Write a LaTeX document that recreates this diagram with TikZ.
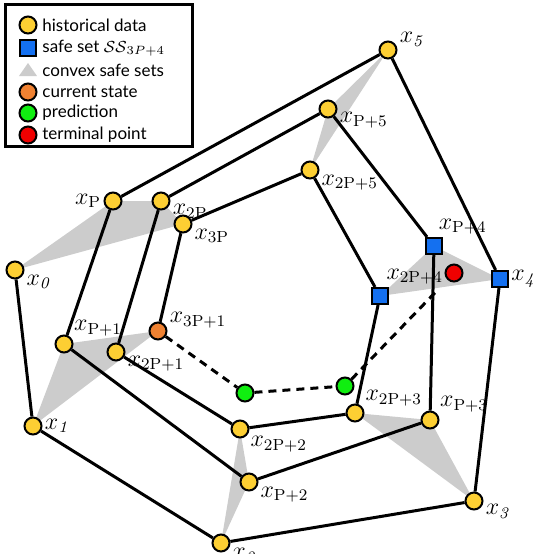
\documentclass[tikz,border=0pt]{standalone}
\usepackage{fontspec}
\setsansfont{Lato}
\usepackage{tikz}
\usetikzlibrary{backgrounds}
\definecolor{histyellow}{HTML}{FDCF33}
\definecolor{safeblue}{HTML}{1470F0}
\definecolor{curorange}{HTML}{F08232}
\definecolor{predgreen}{HTML}{10EE10}
\definecolor{termred}{HTML}{F00000}
\definecolor{hullgray}{HTML}{CCCCCC}
\newcommand{\xlab}[1]{$x_{\mathrm{#1}}$}

\begin{document}
\begin{tikzpicture}[
  x=0.5pt, y=-0.5pt,
  every node/.style={font=\fontsize{11.5}{13}\selectfont},
  pt/.style={circle, draw, line width=1pt, minimum size=8.5pt, inner sep=0pt},
  hist/.style={pt, fill=histyellow},
  safe/.style={rectangle, draw, line width=1pt, minimum size=8pt, inner sep=0pt, fill=safeblue},
  cur/.style={pt, fill=curorange},
  pred/.style={pt, fill=predgreen},
  term/.style={pt, fill=termred},
  traj/.style={line width=1.5pt},
  hull/.style={fill=hullgray, draw=none},
  lbl/.style={inner sep=1pt},
  legtext/.style={anchor=west, font=\sffamily\fontsize{8.5}{10}\selectfont, inner sep=0pt},
]
  \useasboundingbox (0,0) rectangle (533,554);

  % outer loop
  \node[hist, label={[lbl]-15:$x_{\mathit{0}}$}] (x0) at (15,270) {};
  \node[hist, label={[lbl]0:$x_{\mathit{1}}$}] (x1) at (33,426) {};
  \node[hist, label={[lbl]-20:$x_{\mathit{2}}$}] (x2) at (221,543) {};
  \node[hist, label={[lbl]-5:$x_{\mathit{3}}$}] (x3) at (474,501) {};
  \node[safe, label={[lbl]0:$x_{\mathit{4}}$}] (x4) at (500,279) {};
  \node[hist, label={[lbl]5:$x_{\mathit{5}}$}] (x5) at (388,50) {};
  % middle loop
  \node[hist, label={[lbl]180:\xlab{P}}] (xP) at (113,201) {};
  \node[hist, label={[lbl]35:\xlab{P+1}}] (xP1) at (64,344) {};
  \node[hist, label={[lbl]-15:\xlab{P+2}}] (xP2) at (249,482) {};
  \node[hist, label={[lbl]35:\xlab{P+3}}] (xP3) at (430,420) {};
  \node[safe, label={[lbl]75:\xlab{P+4}}] (xP4) at (434,246) {};
  \node[hist, label={[lbl]-5:\xlab{P+5}}] (xP5) at (328,109) {};
  % inner loop
  \node[hist, label={[lbl]-5:\xlab{2P}}] (x2P) at (161,201) {};
  \node[hist, label={[lbl]-8:\xlab{2P+1}}] (x2P1) at (116,352) {};
  \node[hist, label={[lbl]-30:\xlab{2P+2}}] (x2P2) at (240,429) {};
  \node[hist, label={[lbl]30:\xlab{2P+3}}] (x2P3) at (355,413) {};
  \node[safe, label={[lbl]65:\xlab{2P+4}}] (x2P4) at (380,296) {};
  \node[hist, label={[lbl]-15:\xlab{2P+5}}] (x2P5) at (310,170) {};
  \node[hist, label={[lbl]-15:\xlab{3P}}] (x3P) at (183,224) {};
  \node[cur, label={[lbl]5:\xlab{3P+1}}] (x3P1) at (158,331) {};
  % prediction
  \node[pred] (p1) at (245,393) {};
  \node[pred] (p2) at (345,386) {};
  \node[term] (xT) at (454,273) {};

  % convex safe sets
  \begin{scope}[on background layer]
    \fill[hull] (x0.center) -- (xP.center) -- (x2P.center) -- (x3P.center) -- cycle;
    \fill[hull] (x1.center) -- (xP1.center) -- (x3P1.center) -- cycle;
    \fill[hull] (x2.center) -- (xP2.center) -- (x2P2.center) -- cycle;
    \fill[hull] (x3.center) -- (xP3.center) -- (x2P3.center) -- cycle;
    \fill[hull] (x4.center) -- (xP4.center) -- (x2P4.center) -- cycle;
    \fill[hull] (x5.center) -- (xP5.center) -- (x2P5.center) -- cycle;
  \end{scope}

  \draw[traj] (x0) -- (x1) -- (x2) -- (x3) -- (x4) -- (x5) -- (xP);
  \draw[traj] (xP) -- (xP1) -- (xP2) -- (xP3) -- (xP4) -- (xP5) -- (x2P);
  \draw[traj] (x2P) -- (x2P1) -- (x2P2) -- (x2P3) -- (x2P4) -- (x2P5) -- (x3P) -- (x3P1);
  \draw[traj, dash pattern=on 4pt off 3pt] (x3P1) -- (p1) -- (p2);
  \draw[traj, dash pattern=on 4pt off 3pt, shorten >=7pt] (p2) -- (xT);

  % legend
  \draw[line width=1.5pt, fill=white] (6,4) rectangle (193,146);
  \node[hist] (lg1) at (28,25) {};
  \node[legtext] at (42,25) {historical data};
  \node[safe] (lg2) at (28,48) {};
  \node[legtext] at (42,48) {safe set $\mathcal{SS}_{3P+4}$};
  \fill[hullgray] (19,76) -- (28,63) -- (37,76) -- cycle;
  \node[legtext] at (42,70) {convex safe sets};
  \node[cur] (lg4) at (28,92) {};
  \node[legtext] at (42,92) {current state};
  \node[pred] (lg5) at (28,113) {};
  \node[legtext] at (42,113) {prediction};
  \node[term] (lg6) at (28,135) {};
  \node[legtext] at (42,135) {terminal point};
\end{tikzpicture}
\end{document}
